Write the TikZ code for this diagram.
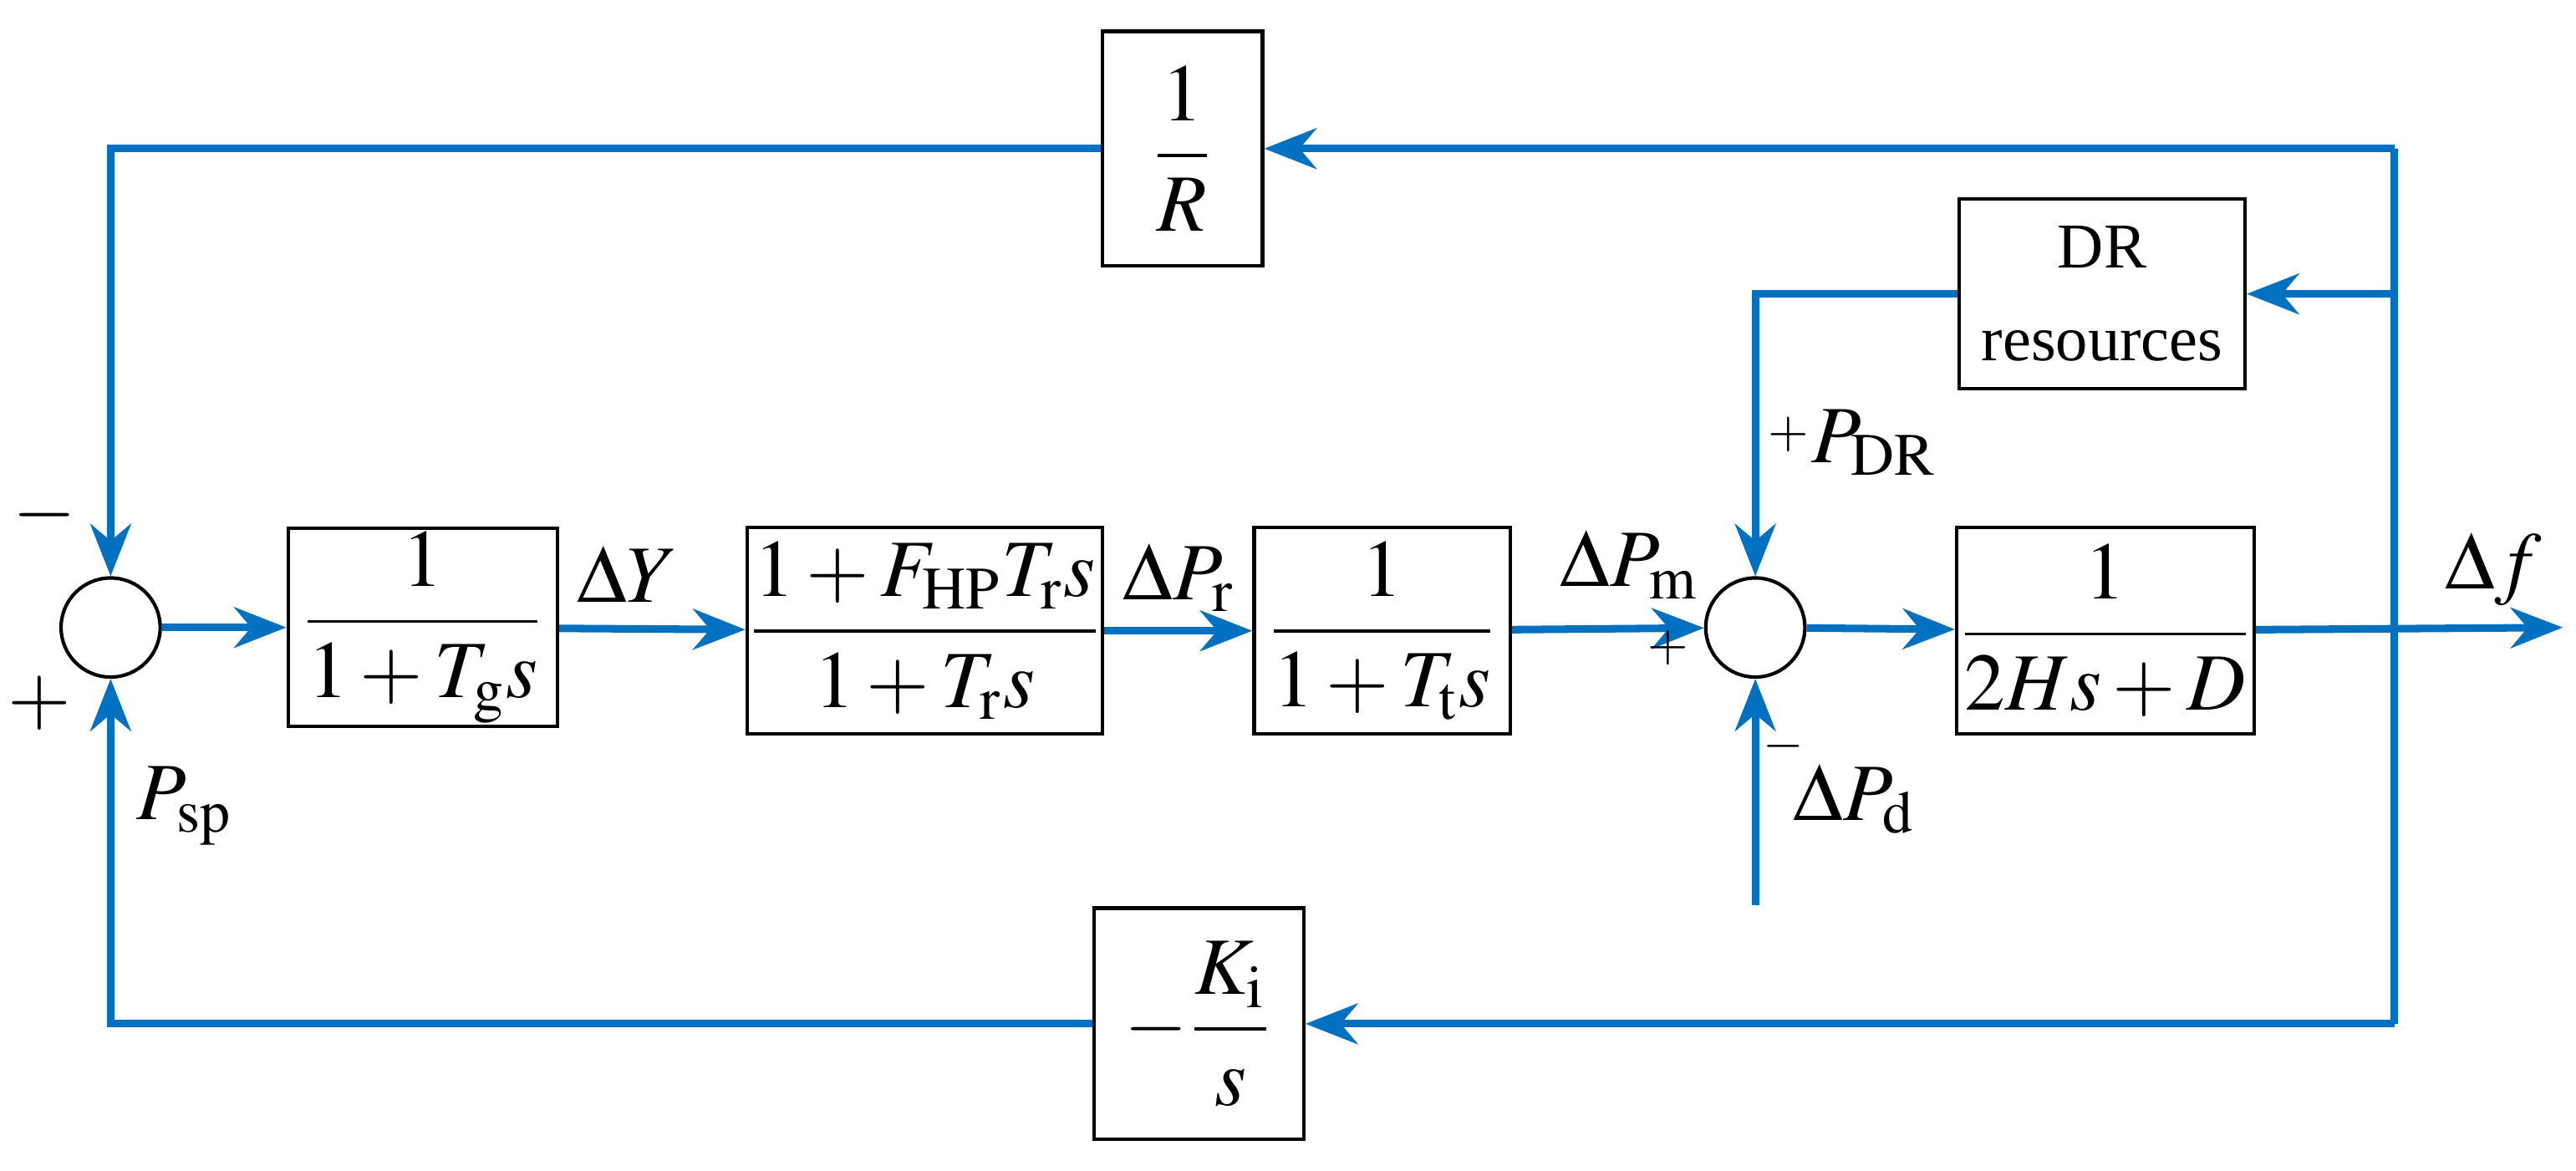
\documentclass[tikz,border=0pt]{standalone}
\usepackage{amsmath}
\usepackage{mathptmx}
\usepackage{fontspec}
\setmainfont{Liberation Serif}
\usetikzlibrary{arrows.meta,positioning}
\definecolor{sigblue}{RGB}{0,112,192}
\tikzset{
	blk/.style = {draw, line width=0.6pt, inner sep=0pt, align=center},
	sumj/.style = {draw, circle, line width=0.6pt, minimum size=0.6cm, inner sep=0pt},
	sig/.style = {draw=sigblue, line width=1.3pt},
	arr/.style = {sig, -{Stealth[length=9pt,width=7pt]}},
	lbl/.style = {inner sep=0pt, font=\fontsize{14}{16}\selectfont},
	sgn/.style = {inner sep=0pt, font=\fontsize{9}{10}\selectfont}
}
\begin{document}
\begin{tikzpicture}[x=0.01cm, y=-0.01cm, font=\fontsize{14}{16}\selectfont]
	\useasboundingbox (0,0) rectangle (1560,709);

	% summing junctions
	\node[sumj] (s1) at (67,380) {};
	\node[sumj] (s2) at (1063,380) {};

	% blocks
	\node[blk, minimum width=1.63cm, minimum height=1.2cm]  (gov)  at (256,380)  {$\dfrac{1}{1+T_{\mathrm{g}}s}$};
	\node[blk, minimum width=2.1cm,  minimum height=1.25cm] (rht)  at (560,382)  {$\dfrac{1+F_{\mathrm{HP}}T_{\mathrm{r}}s}{1+T_{\mathrm{r}}s}$};
	\node[blk, minimum width=1.55cm, minimum height=1.25cm] (tur)  at (837,382)  {$\dfrac{1}{1+T_{\mathrm{t}}s}$};
	\node[blk, minimum width=1.8cm,  minimum height=1.25cm] (sys)  at (1275,382) {$\dfrac{1}{2Hs+D}$};
	\node[blk, minimum width=0.97cm, minimum height=1.42cm] (droop) at (716,90)  {$\dfrac{1}{R}$};
	\node[blk, minimum width=1.73cm, minimum height=1.15cm, font=\fontsize{11}{16}\selectfont] (dr) at (1273,178) {DR\\resources};
	\node[blk, minimum width=1.27cm, minimum height=1.4cm]  (ki)   at (726,620)  {$-\dfrac{K_{\mathrm{i}}}{s}$};

	% branch points and ends
	\coordinate (bt) at (1450,90);
	\coordinate (bd) at (1450,178);
	\coordinate (bb) at (1450,620);
	\coordinate (out) at (1552,380);
	\coordinate (pd) at (1063,548);

	% forward path
	\draw[arr] (s1) -- (gov);
	\draw[arr] (gov) -- (rht);
	\draw[arr] (rht) -- (tur);
	\draw[arr] (tur) -- (s2);
	\draw[arr] (s2) -- (sys);
	\draw[arr] (sys) -- (out);
	\draw[arr] (pd) -- (s2);

	% feedback paths
	\draw[sig] (bb) -- (bt);
	\draw[arr] (bt) -- (droop);
	\draw[arr] (droop.west) -| (s1.north);
	\draw[arr] (bd) -- (dr);
	\draw[arr] (dr.west) -| (s2.north);
	\draw[arr] (bb) -- (ki);
	\draw[arr] (ki.west) -| (s1.south);

	% labels
	\node[lbl] at (27,312) {$-$};
	\node[lbl] at (24,426) {$+$};
	\node[lbl] at (112,488) {$P_{\mathrm{sp}}$};
	\node[lbl] at (380,348) {$\Delta Y$};
	\node[lbl] at (714,350) {$\Delta P_{\mathrm{r}}$};
	\node[lbl] at (987,342) {$\Delta P_{\mathrm{m}}$};
	\node[sgn] at (1010,392) {$+$};
	\node[sgn] at (1083,263) {$+$};
	\node[lbl] at (1135,268) {$P_{\mathrm{DR}}$};
	\node[sgn] at (1080,452) {$-$};
	\node[lbl] at (1123,484) {$\Delta P_{\mathrm{d}}$};
	\node[lbl] at (1510,345) {$\Delta f$};
\end{tikzpicture}
\end{document}
